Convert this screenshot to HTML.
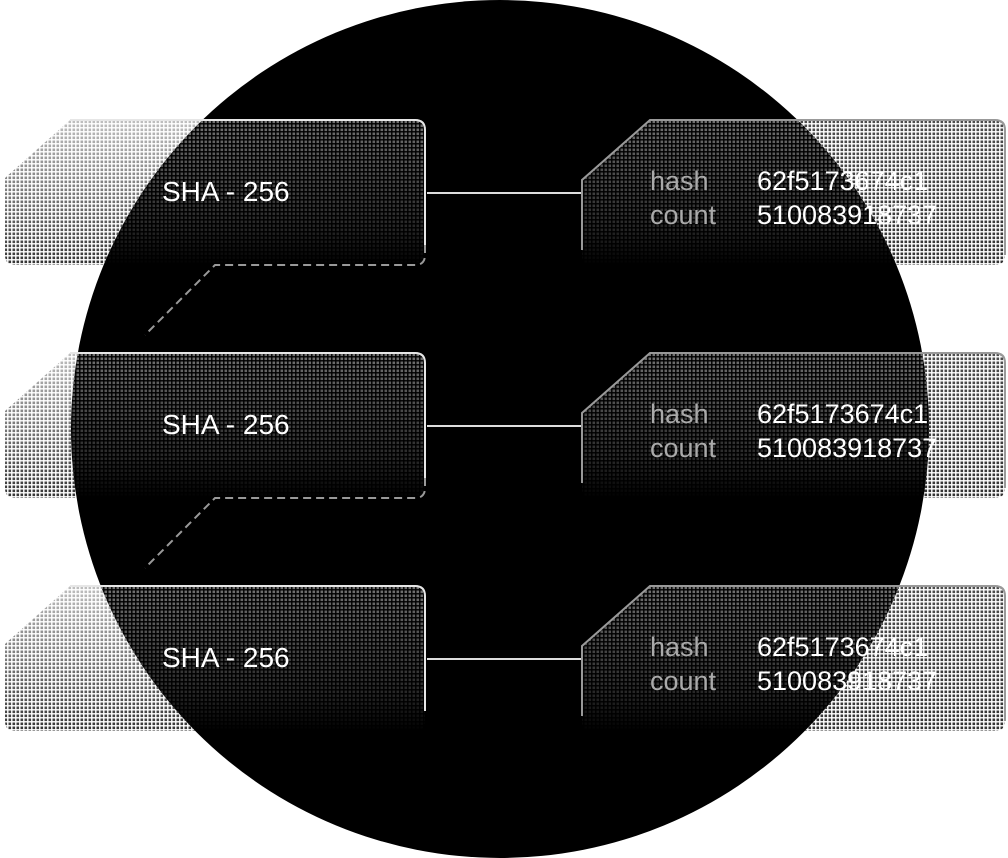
<!DOCTYPE html>
<html><head><meta charset="utf-8"><style>
html,body{margin:0;padding:0;background:#fff;}
svg{display:block}
text{font-family:"Liberation Sans",sans-serif;font-size:27px}
</style></head><body>
<svg width="1008" height="858" viewBox="0 0 1008 858" xmlns="http://www.w3.org/2000/svg">
<defs>
<pattern id="dotsOut" width="4" height="4" patternUnits="userSpaceOnUse"><rect x="0.5" y="0.5" width="2.6" height="2.6" fill="#000"/></pattern>
<pattern id="dotsIn" width="4" height="4" patternUnits="userSpaceOnUse"><rect x="0.5" y="0.5" width="2.6" height="2.6" fill="#fff"/></pattern>
<clipPath id="circ"><circle cx="500" cy="429" r="429"/></clipPath>
<mask id="outside" maskUnits="userSpaceOnUse" x="0" y="0" width="1008" height="858"><rect width="1008" height="858" fill="#fff"/><circle cx="500" cy="429" r="429" fill="#000"/></mask>
<linearGradient id="gOut" x1="0" y1="0" x2="0" y2="1"><stop offset="0" stop-color="#fff" stop-opacity="0.25"/><stop offset="1" stop-color="#fff" stop-opacity="0.8"/></linearGradient>
<linearGradient id="gOutR" x1="0" y1="0" x2="0" y2="1"><stop offset="0" stop-color="#fff" stop-opacity="0.7"/><stop offset="1" stop-color="#fff" stop-opacity="0.8"/></linearGradient>
<linearGradient id="gIn" x1="0" y1="0" x2="0" y2="1"><stop offset="0" stop-color="#fff" stop-opacity="0.45"/><stop offset="0.75" stop-color="#fff" stop-opacity="0.15"/><stop offset="1" stop-color="#fff" stop-opacity="0"/></linearGradient>
<mask id="mOut" maskContentUnits="objectBoundingBox"><rect width="1" height="1" fill="url(#gOut)"/></mask>
<mask id="mOutR" maskContentUnits="objectBoundingBox"><rect width="1" height="1" fill="url(#gOutR)"/></mask>
<mask id="mIn" maskContentUnits="objectBoundingBox"><rect width="1" height="1" fill="url(#gIn)"/></mask>
<path id="lb" d="M5,178 L70,120 L415,120 Q425,120 425,130 L425,255 Q425,265 415,265 L15,265 Q5,265 5,255 Z"/>
<path id="rb" d="M582,180 L650,120 L995,120 Q1005,120 1005,130 L1005,255 Q1005,265 995,265 L592,265 Q582,265 582,255 Z"/>
<g id="row">
  <path d="M70,120 L415,120 Q425,120 425,130 L425,245" fill="none" stroke="#e6e6e6" stroke-width="2"/>
  <line x1="427" y1="193" x2="582" y2="193" stroke="#ddd" stroke-width="2"/>
  <path d="M582,250 L582,180 L650,120 L995,120 Q1005,120 1005,130 L1005,255" fill="none" stroke="#999" stroke-width="2"/>
  <text x="162" y="201" fill="#fff" style="font-size:28px">SHA - 256</text>
  <text x="650" y="190" fill="#aaa">hash</text>
  <text x="650" y="224" fill="#aaa">count</text>
  <text x="757" y="190" fill="#fff">62f5173674c1</text>
  <text x="757" y="224" fill="#fff">510083918737</text>
</g>
<g id="dash">
  <path d="M425,245 L425,255 Q425,265 415,265 L215,265 L145,335" fill="none" stroke="#999" stroke-width="2" stroke-dasharray="8,5"/>
</g>
</defs>
<circle cx="500" cy="429" r="429" fill="#000"/>
<g mask="url(#outside)">
  <use href="#lb" fill="url(#dotsOut)" mask="url(#mOut)"/>
  <use href="#rb" fill="url(#dotsOut)" mask="url(#mOutR)"/>
  <g transform="translate(0,233)"><use href="#lb" fill="url(#dotsOut)" mask="url(#mOut)"/><use href="#rb" fill="url(#dotsOut)" mask="url(#mOutR)"/></g>
  <g transform="translate(0,466)"><use href="#lb" fill="url(#dotsOut)" mask="url(#mOut)"/><use href="#rb" fill="url(#dotsOut)" mask="url(#mOutR)"/></g>
</g>
<g clip-path="url(#circ)">
  <use href="#lb" fill="url(#dotsIn)" mask="url(#mIn)"/>
  <use href="#rb" fill="url(#dotsIn)" mask="url(#mIn)"/>
  <g transform="translate(0,233)"><use href="#lb" fill="url(#dotsIn)" mask="url(#mIn)"/><use href="#rb" fill="url(#dotsIn)" mask="url(#mIn)"/></g>
  <g transform="translate(0,466)"><use href="#lb" fill="url(#dotsIn)" mask="url(#mIn)"/><use href="#rb" fill="url(#dotsIn)" mask="url(#mIn)"/></g>
</g>
<use href="#row"/>
<use href="#dash"/>
<use href="#row" transform="translate(0,233)"/>
<use href="#dash" transform="translate(0,233)"/>
<use href="#row" transform="translate(0,466)"/>
</svg>
</body></html>
